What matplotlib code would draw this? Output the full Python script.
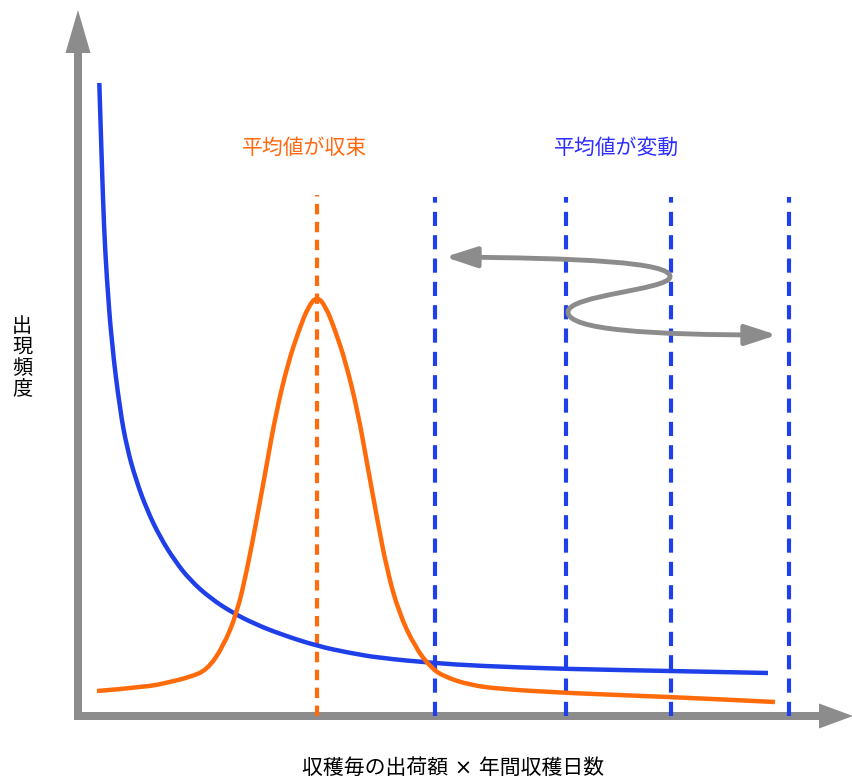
import matplotlib.pyplot as plt
from matplotlib.path import Path
from matplotlib.patches import FancyArrowPatch, PathPatch

plt.rcParams['font.family'] = ['Noto Sans CJK JP', 'DejaVu Sans']

# Curves (origin = axis corner, 1 unit = 1 px)
blue_x = [21.3, 23.7, 26, 28.7, 33.7, 42, 49, 58, 69, 82, 97, 112, 132, 155, 177, 202,
          239, 272, 302, 355, 402, 488, 593, 690]
blue_y = [633, 556, 489, 439, 373, 306, 268, 236, 206, 179, 155, 136, 118, 103, 92, 82,
          70, 63, 58, 53, 50, 47, 45, 43]

orange_x = [19, 69, 92, 112, 129, 145, 159, 169, 179, 189, 198, 210, 221, 230, 239,
            248, 257, 268, 280, 289, 299, 309, 321, 337, 353, 367, 392, 422, 488, 593, 697]
orange_y = [25, 29, 34, 39, 46, 69, 103, 146, 198, 253, 303, 353, 386, 409, 420,
            409, 386, 353, 303, 253, 198, 146, 103, 69, 48, 39, 31, 27, 23, 19, 14]

orange_mean = [239]
blue_means = [357, 488, 593, 711]
orange_top = 521
blue_top = 519

# S-shaped arrow: the mean jumping around
s_verts = [(367, 459), (500, 458), (594, 454), (592, 439),
           (590, 426), (490, 421), (490, 404),
           (490, 386), (572, 381), (699, 381)]

axis_gray = '#8c8c8c'
blue = '#1f3fe8'
orange = '#ff6a0a'


def smooth_curve(xs, ys):
    # quadratic segments through the midpoints of the read points
    pts = list(zip(xs, ys))
    verts = [pts[0]]
    codes = [Path.MOVETO]
    for i in range(1, len(pts) - 1):
        mid = ((pts[i][0] + pts[i + 1][0]) / 2, (pts[i][1] + pts[i + 1][1]) / 2)
        verts += [pts[i], mid]
        codes += [Path.CURVE3, Path.CURVE3]
    verts.append(pts[-1])
    codes.append(Path.LINETO)
    return Path(verts, codes)


fig = plt.figure(figsize=(8.53, 7.78), dpi=100)
ax = fig.add_axes([0, 0, 1, 1])
ax.set_xlim(-78, 775)
ax.set_ylim(-62, 716)
ax.axis('off')

# axes with arrow heads
ax.arrow(0, -4, 0, 710, width=8, head_width=25, head_length=43,
         length_includes_head=True, color=axis_gray, lw=0)
ax.arrow(-4, 0, 779, 0, width=8, head_width=25, head_length=34,
         length_includes_head=True, color=axis_gray, lw=0)

# dashed mean lines
for x in orange_mean:
    ax.plot([x, x], [0, orange_top], color=orange, lw=3, dashes=(2.5, 1.8), zorder=2)
for x in blue_means:
    ax.plot([x, x], [0, blue_top], color=blue, lw=3, dashes=(3.4, 2.2), zorder=2)

ax.add_patch(PathPatch(smooth_curve(blue_x, blue_y), fill=False, edgecolor=blue,
                       lw=3.2, zorder=3))
ax.add_patch(PathPatch(smooth_curve(orange_x, orange_y), fill=False, edgecolor=orange,
                       lw=3.2, zorder=3))

codes = [Path.MOVETO] + [Path.CURVE4] * 9
s_path = Path(s_verts, codes)
arrow = FancyArrowPatch(path=s_path, arrowstyle='<|-|>,head_length=19,head_width=6.2',
                        color=axis_gray, lw=3.5, shrinkA=0, shrinkB=0, zorder=4)
ax.add_patch(arrow)

ax.text(227, 568, '平均値が収束', color='#ff6a13', fontsize=15, ha='center', va='center')
ax.text(539, 568, '平均値が変動', color='#2f2fff', fontsize=15, ha='center', va='center')
ax.text(-56, 358, '出\n現\n頻\n度', color='black', fontsize=14.5, ha='center', va='center',
        linespacing=0.98)
ax.text(375, -52, '収穫毎の出荷額 × 年間収穫日数', color='black', fontsize=15,
        ha='center', va='center', family=['DejaVu Sans', 'Noto Sans CJK JP'])

fig.savefig('out.png', dpi=100)
